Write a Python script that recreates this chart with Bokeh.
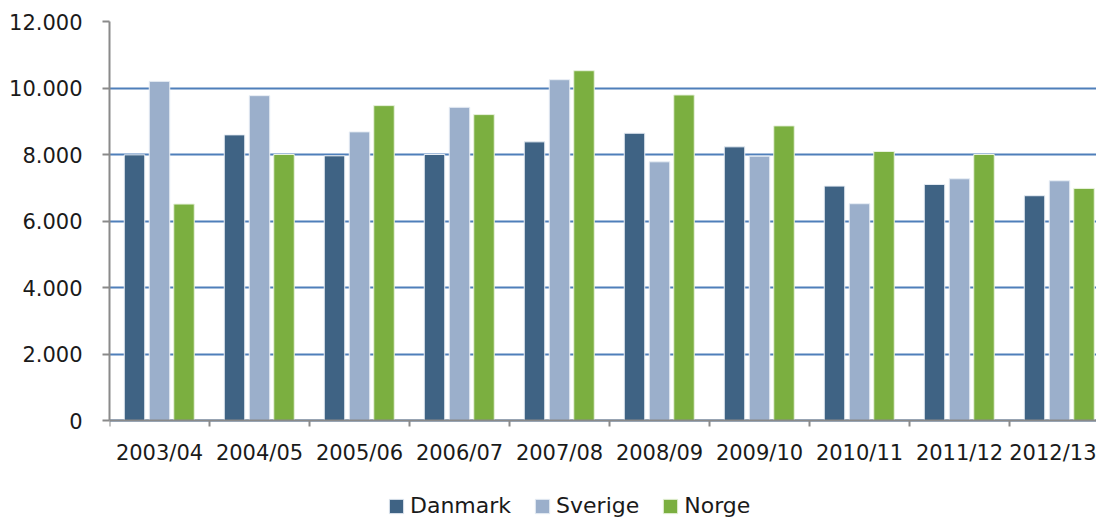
from bokeh.plotting import figure
from bokeh.models import Range1d, FixedTicker, Legend, LegendItem
from bokeh.transform import dodge
from bokeh.models import ColumnDataSource
from bokeh.embed import file_html
from bokeh.resources import INLINE

seasons = ["2003/04", "2004/05", "2005/06", "2006/07", "2007/08",
           "2008/09", "2009/10", "2010/11", "2011/12", "2012/13"]
danmark = [7990, 8590, 7960, 8000, 8380, 8640, 8230, 7050, 7100, 6760]
sverige = [10200, 9770, 8680, 9420, 10250, 7780, 7950, 6520, 7270, 7210]
norge = [6510, 8000, 9470, 9200, 10520, 9790, 8860, 8090, 8000, 6980]
y_ticks = [0, 2000, 4000, 6000, 8000, 10000, 12000]
y_labels = ["0", "2.000", "4.000", "6.000", "8.000", "10.000", "12.000"]

FONT = "DejaVu Sans"
C_DK, C_SE, C_NO = "#3F6384", "#9BAFCB", "#7BAF40"

centers = [i + 0.5 for i in range(len(seasons))]
src = ColumnDataSource(dict(x=centers, dk=danmark, se=sverige, no=norge))

# frame: top at 21px, value 0 at 420px, frame runs to the bottom edge (518px)
y_bottom = -98 * 12000 / 399.0
p = figure(width=1096, height=518, output_backend="svg", toolbar_location=None,
           x_range=Range1d(0, 9.87), y_range=Range1d(y_bottom, 12000),
           min_border_left=109, min_border_top=21, min_border_right=0,
           min_border_bottom=0)
p.outline_line_color = None
p.background_fill_color = "white"
p.border_fill_color = "white"

w = 0.205
r1 = p.vbar(x=dodge("x", -0.25, range=p.x_range), top="dk", width=w, source=src,
            fill_color=C_DK, line_color="#E8EEF5", line_width=1)
r2 = p.vbar(x=dodge("x", 0.0, range=p.x_range), top="se", width=w, source=src,
            fill_color=C_SE, line_color="#E8EEF5", line_width=1)
r3 = p.vbar(x=dodge("x", 0.245, range=p.x_range), top="no", width=w, source=src,
            fill_color=C_NO, line_color="#E8F2DD", line_width=1)

# grid
p.xgrid.grid_line_color = None
p.ygrid.grid_line_color = "#4F7FBA"
p.ygrid.grid_line_width = 2
p.ygrid.level = "underlay"

# y axis
p.yaxis.ticker = FixedTicker(ticks=y_ticks)
p.yaxis.bounds = (0, 12000)
p.yaxis.major_label_overrides = {t: l for t, l in zip(y_ticks, y_labels)}
p.yaxis.axis_line_color = "#8A8A8A"
p.yaxis.axis_line_width = 2
p.yaxis.major_tick_line_color = "#8A8A8A"
p.yaxis.major_tick_line_width = 2
p.yaxis.major_tick_in = 0
p.yaxis.major_tick_out = 7
p.yaxis.minor_tick_line_color = None
p.yaxis.major_label_standoff = 20
p.yaxis.major_label_text_font = FONT
p.yaxis.major_label_text_font_size = "21px"
p.yaxis.major_label_text_color = "#1A1A1A"

# x axis (sits at value 0)
p.xaxis.fixed_location = 0
p.xaxis.ticker = FixedTicker(ticks=centers, minor_ticks=list(range(len(seasons))))
p.xaxis.major_label_overrides = {c: s for c, s in zip(centers, seasons)}
p.xaxis.axis_line_color = "#8A8A8A"
p.xaxis.axis_line_width = 2
p.xaxis.major_tick_line_color = None
p.xaxis.major_tick_in = 0
p.xaxis.major_tick_out = 0
p.xaxis.minor_tick_line_color = "#8A8A8A"
p.xaxis.minor_tick_line_width = 2
p.xaxis.minor_tick_in = 0
p.xaxis.minor_tick_out = 6
p.xaxis.major_label_standoff = 14
p.xaxis.major_label_text_font = FONT
p.xaxis.major_label_text_font_size = "21px"
p.xaxis.major_label_text_color = "#1A1A1A"

legend = Legend(items=[LegendItem(label="Danmark", renderers=[r1]),
                       LegendItem(label="Sverige", renderers=[r2]),
                       LegendItem(label="Norge", renderers=[r3])],
                orientation="horizontal", location=(278, 0),
                border_line_color=None, background_fill_alpha=0,
                padding=0, margin=0, spacing=22,
                glyph_width=18, glyph_height=18, label_standoff=5,
                label_text_font=FONT, label_text_font_size="22px",
                label_text_color="#1A1A1A")
p.add_layout(legend, "center")

open("out.html", "w").write(file_html(p, INLINE))
